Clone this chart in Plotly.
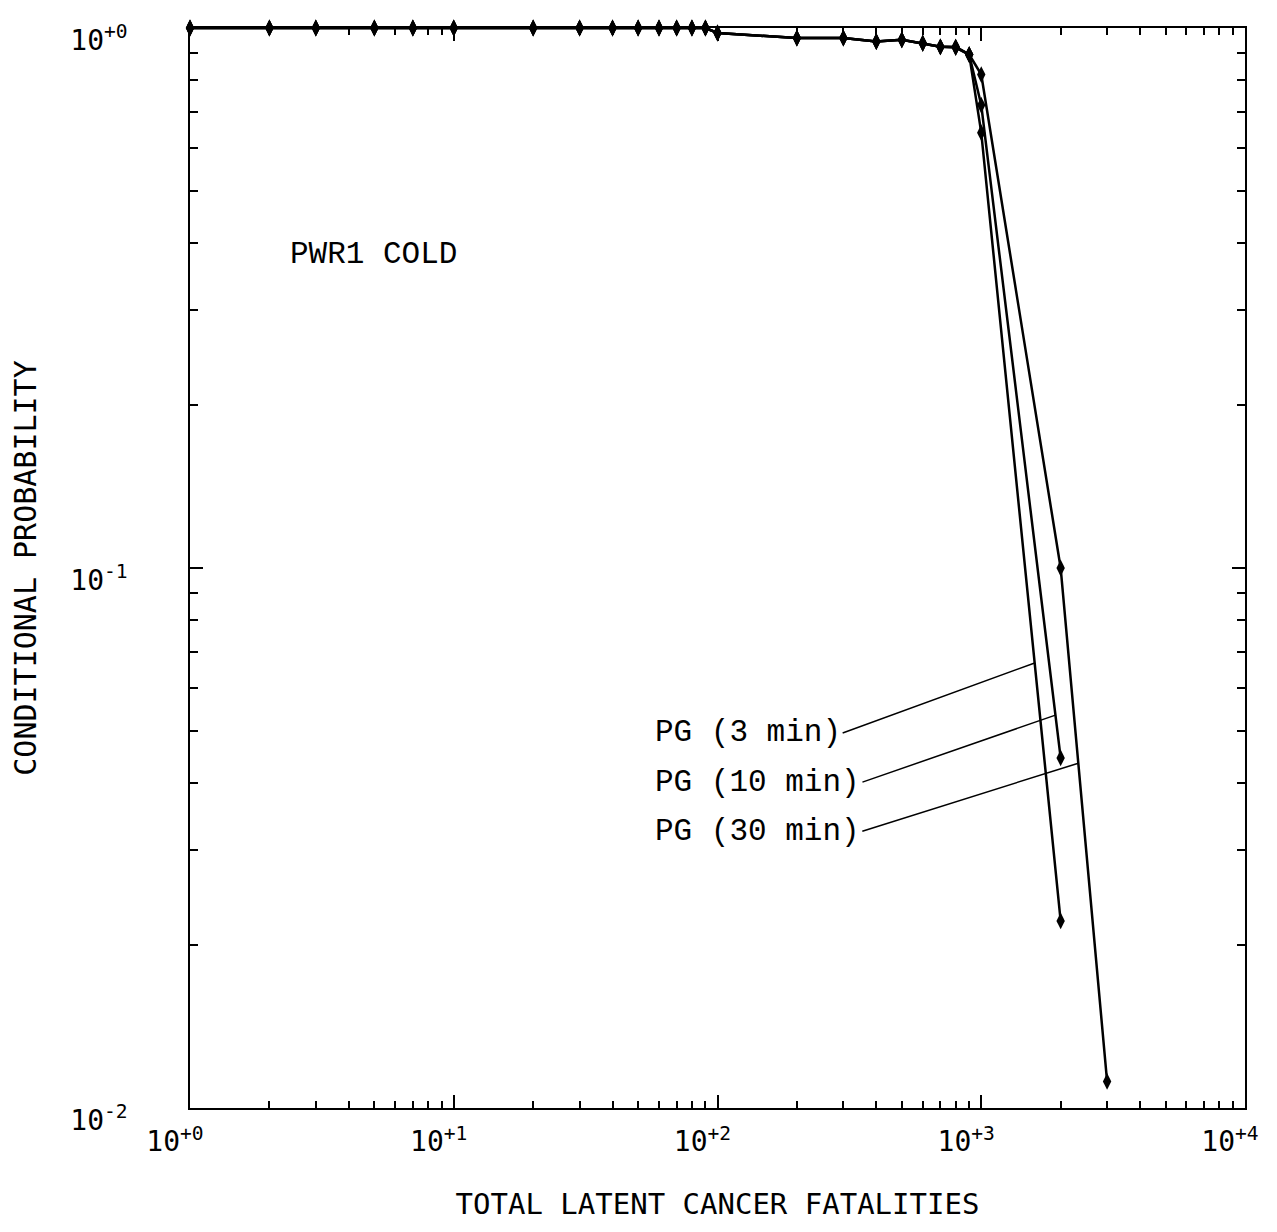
import numpy as np
import plotly.graph_objects as go

# ---------------- data ----------------
pg3_x = [1, 2, 3, 5, 7, 10, 20, 30, 40, 50, 60, 70, 80, 90, 100, 200, 300, 400, 500, 600, 700, 800, 900, 1000, 2000]
pg3_y = [1.0, 1.0, 1.0, 1.0, 1.0, 1.0, 1.0, 1.0, 1.0, 1.0, 1.0, 1.0, 1.0, 1.0, 0.979, 0.958, 0.958, 0.944, 0.951, 0.937, 0.923, 0.92, 0.893, 0.64, 0.0222]

pg10_x = [1, 2, 3, 5, 7, 10, 20, 30, 40, 50, 60, 70, 80, 90, 100, 200, 300, 400, 500, 600, 700, 800, 900, 1000, 2000]
pg10_y = [1.0, 1.0, 1.0, 1.0, 1.0, 1.0, 1.0, 1.0, 1.0, 1.0, 1.0, 1.0, 1.0, 1.0, 0.979, 0.958, 0.958, 0.944, 0.951, 0.937, 0.923, 0.921, 0.893, 0.72, 0.0445]

pg30_x = [1, 2, 3, 5, 7, 10, 20, 30, 40, 50, 60, 70, 80, 90, 100, 200, 300, 400, 500, 600, 700, 800, 900, 1000, 2000, 3000]
pg30_y = [1.0, 1.0, 1.0, 1.0, 1.0, 1.0, 1.0, 1.0, 1.0, 1.0, 1.0, 1.0, 1.0, 1.0, 0.979, 0.958, 0.958, 0.944, 0.951, 0.937, 0.923, 0.923, 0.893, 0.82, 0.100, 0.0112]

series_names = ["PG (3 min)", "PG (10 min)", "PG (30 min)"]
# probability level at which each leader line meets its curve
leader_y = [0.0667, 0.0534, 0.0435]

x_tickvals = [1, 10, 100, 1000, 10000]
x_ticktext = ["10<sup>+0</sup>", "10<sup>+1</sup>", "10<sup>+2</sup>", "10<sup>+3</sup>", "10<sup>+4</sup>"]
y_tickvals = [0.01, 0.1, 1]
y_ticktext = ["10<sup>-2</sup>", "10<sup>-1</sup>", "10<sup>+0</sup>"]
minor_digits = [2, 3, 4, 5, 6, 7, 8, 9]
x_decades = [1, 10, 100, 1000]
y_decades = [0.01, 0.1]

x_title = "TOTAL LATENT CANCER FATALITIES"
y_title = "CONDITIONAL PROBABILITY"
case_label = "PWR1 COLD"

# ---------------- figure ----------------
MONO = "Liberation Mono, Courier New, monospace"
PLOT = "DejaVu Sans Mono, monospace"

fig = go.Figure()
series = [(pg3_x, pg3_y), (pg10_x, pg10_y), (pg30_x, pg30_y)]
for (xs, ys), name in zip(series, series_names):
    fig.add_trace(go.Scatter(
        x=xs, y=ys, mode="lines+markers", name=name,
        line=dict(color="black", width=2.5),
        marker=dict(symbol="diamond-tall", size=12, color="black"),
        cliponaxis=False,
    ))


def x_at(xs, ys, yt):
    lx, ly, lt = np.log10(xs), np.log10(ys), np.log10(yt)
    for i in range(len(xs) - 1):
        if (ly[i] - lt) * (ly[i + 1] - lt) <= 0 and ly[i] != ly[i + 1]:
            t = (lt - ly[i]) / (ly[i + 1] - ly[i])
            return lx[i] + t * (lx[i + 1] - lx[i])
    return lx[-1]


label_offsets = [(-192, 70), (-193, 67), (-216, 68)]
for (xs, ys), name, yt, (axp, ayp) in zip(series, series_names, leader_y, label_offsets):
    fig.add_annotation(
        x=x_at(xs, ys, yt), y=np.log10(yt), xref="x", yref="y",
        text=name, showarrow=True, arrowhead=0, arrowwidth=1.5,
        arrowcolor="black", ax=axp, ay=ayp, axref="pixel", ayref="pixel",
        xanchor="right", yanchor="middle", standoff=0,
        font=dict(family=MONO, size=31, color="black"),
    )

fig.add_annotation(
    x=0.093, y=0.79, xref="paper", yref="paper", text=case_label,
    showarrow=False, xanchor="left", yanchor="middle",
    font=dict(family=MONO, size=31, color="black"),
)

x_minor = [d * k for d in x_decades for k in minor_digits]
y_minor = [d * k for d in y_decades for k in minor_digits]

axis_common = dict(
    type="log", showgrid=False, zeroline=False,
    showline=True, linecolor="black", linewidth=1.5, mirror="ticks",
    ticks="inside", ticklen=13, tickwidth=1.5, tickcolor="black",
    tickfont=dict(family=PLOT, size=28, color="black"),
)

fig.update_xaxes(
    **axis_common, range=[0, 4], tickmode="array",
    tickvals=x_tickvals, ticktext=x_ticktext, ticklabelstandoff=8,
    ticklabelshift=-15,
    minor=dict(tickmode="array", tickvals=x_minor, ticks="inside", ticklen=7,
               tickwidth=1.5, tickcolor="black", showgrid=False),
    title=dict(text=x_title, font=dict(family=PLOT, size=29, color="black"), standoff=36),
)
fig.update_yaxes(
    **axis_common, range=[-2, 0], tickmode="array",
    tickvals=y_tickvals, ticktext=y_ticktext, ticklabelstandoff=55,
    ticklabelshift=12,
    minor=dict(tickmode="array", tickvals=y_minor, ticks="inside", ticklen=8,
               tickwidth=1.5, tickcolor="black", showgrid=False),
    title=dict(text=y_title, font=dict(family=PLOT, size=30, color="black"), standoff=28),
)

fig.update_layout(
    width=1269, height=1224,
    margin=dict(l=182, r=32, t=20, b=124, autoexpand=False),
    paper_bgcolor="white", plot_bgcolor="white",
    showlegend=False,
)

fig.write_html("out.html")
